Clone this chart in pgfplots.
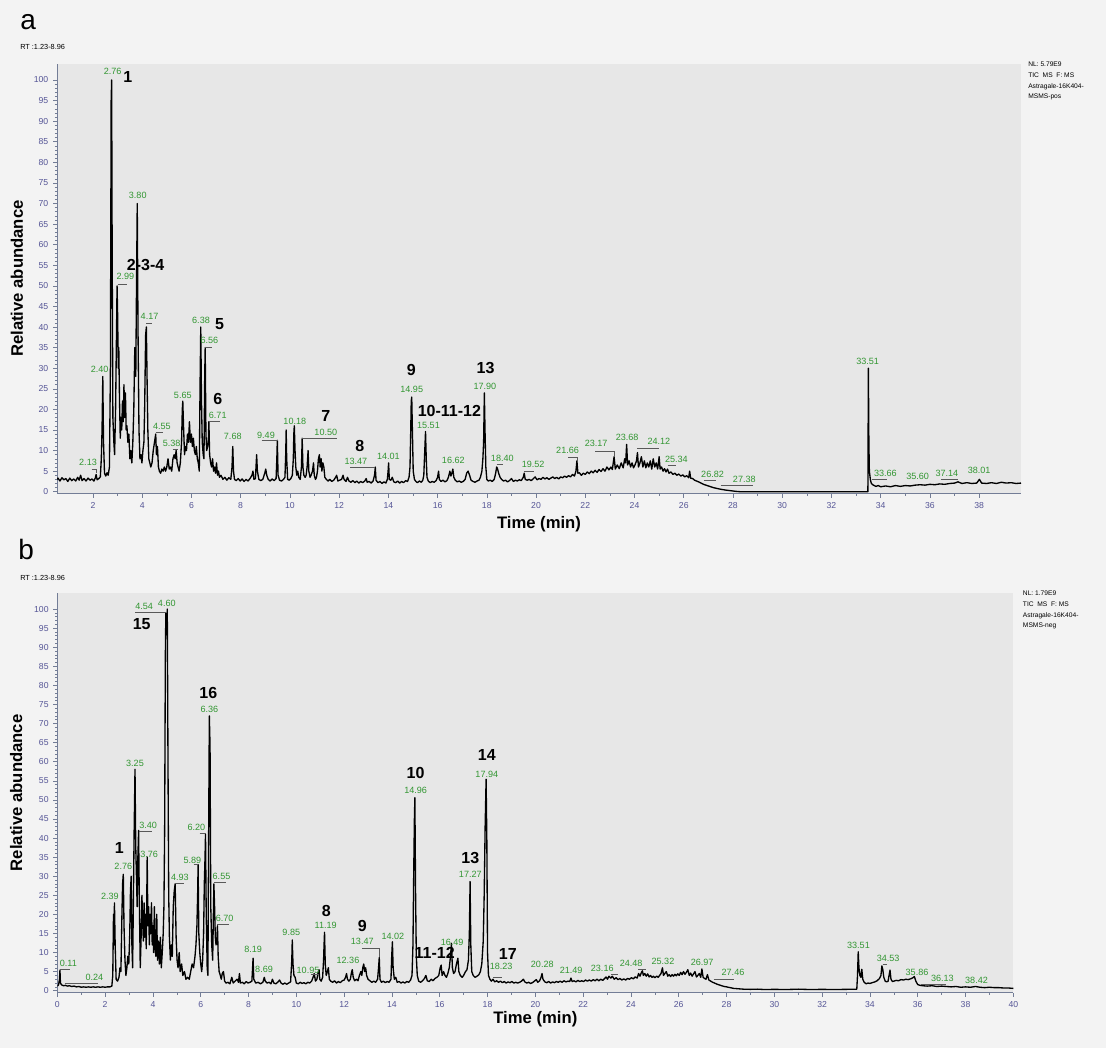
\documentclass[border=0pt]{standalone}
\usepackage{fontspec}
\setmainfont{Liberation Sans}
\usepackage{pgfplots}
\pgfplotsset{compat=1.18}

\definecolor{pagebg}{RGB}{243,243,243}
\definecolor{plotbg}{RGB}{231,231,231}
\definecolor{tickblue}{RGB}{85,85,150}
\definecolor{axisgray}{RGB}{115,125,150}
\definecolor{peakgreen}{RGB}{50,150,50}

\tikzset{
  trace/.style={black, line width=1pt, line join=round},
  glab/.style={font=\fontsize{6.8}{7}\selectfont, text=peakgreen, inner sep=0pt},
  plab/.style={font=\fontsize{12}{14}\selectfont\bfseries, inner sep=0pt},
  leader/.style={draw=black!65, line width=0.4pt},
}
\pgfplotsset{
  chrom/.style={
    scale only axis, axis lines=left,
    axis line style={-, axisgray, line width=0.6pt},
    axis background/.style={fill=plotbg},
    ymin=-0.5, ymax=104, ytick={0,5,...,100}, minor y tick num=4,
    minor x tick num=1,
    tick align=outside, tick style={axisgray, line width=0.4pt},
    major tick length=3pt, minor tick length=1.6pt,
    ticklabel style={font=\fontsize{6.5}{7}\selectfont, text=tickblue},
    /pgf/number format/assume math mode=true,
    xlabel={Time (min)}, ylabel={Relative abundance},
    label style={font=\fontsize{12.5}{14}\selectfont\bfseries},
    clip mode=individual,
  },
}

\begin{document}
\begin{tikzpicture}
\useasboundingbox (0,0) rectangle (829.5pt,786pt);
\fill[pagebg] (0,0) rectangle (829.5pt,786pt);

% panel labels and header texts
\node[anchor=base west, font=\fontsize{21}{24}\selectfont, inner sep=0pt] at (15pt,764pt) {a};
\node[anchor=base west, font=\fontsize{5.5}{6}\selectfont, inner sep=0pt] at (15pt,748.5pt) {RT :1.23-8.96};
\node[anchor=base west, font=\fontsize{21}{24}\selectfont, inner sep=0pt] at (13.5pt,366pt) {b};
\node[anchor=base west, font=\fontsize{5.5}{6}\selectfont, inner sep=0pt] at (15pt,350.5pt) {RT :1.23-8.96};

\begin{scope}[every node/.style={anchor=base west, font=\fontsize{5}{6}\selectfont, inner sep=0pt}]
\node at (771pt,735.8pt) {NL: 5.79E9};
\node at (771pt,727.5pt) {TIC\ \ MS\ \ F: MS};
\node at (771pt,719.3pt) {Astragale-16K404-};
\node at (771pt,711.8pt) {MSMS-pos};
\node at (767pt,339pt) {NL: 1.79E9};
\node at (767pt,331pt) {TIC\ \ MS\ \ F: MS};
\node at (767pt,323pt) {Astragale-16K404-};
\node at (767pt,315.2pt) {MSMS-neg};
\end{scope}

% ---------------- panel a ----------------
\begin{axis}[chrom,
  at={(42.75pt,415.65pt)}, anchor=south west,
  width=723pt, height=322.7pt,
  xmin=0.54, xmax=39.7, xtick={2,4,...,38},
  ylabel style={at={(axis description cs:-0.0415,0.5)}, anchor=center},
  xlabel style={at={(axis description cs:0.5,-0.07)}, anchor=center},
]
\addplot[trace] coordinates {
(0.50,2.8) (0.58,3.3) (0.66,2.6) (0.74,3.4) (0.82,2.9) (0.90,3.2) (0.98,2.5) (1.06,3.3)
(1.14,2.7) (1.22,3.1) (1.30,2.6) (1.38,3.5) (1.44,2.8) (1.50,4.0) (1.56,2.7) (1.64,3.2)
(1.72,2.6) (1.80,3.3) (1.88,2.8) (1.96,3.1) (2.04,2.6) (2.10,3.4) (2.13,4.2) (2.17,2.9)
(2.24,3.2) (2.30,3.6) (2.34,8) (2.37,15) (2.40,28) (2.43,12) (2.47,4.5) (2.52,3.8)
(2.57,4.6) (2.62,4.0) (2.67,6) (2.71,30) (2.74,95) (2.76,100) (2.78,60) (2.81,18)
(2.85,12) (2.88,9) (2.92,20) (2.95,35) (2.98,50) (3.00,44) (3.03,30) (3.05,35)
(3.08,22) (3.11,13) (3.14,18) (3.17,15) (3.20,22) (3.23,17) (3.26,26) (3.29,18)
(3.32,24) (3.35,15) (3.38,16) (3.42,12) (3.46,14) (3.50,8) (3.54,10) (3.58,7)
(3.62,12) (3.66,20) (3.70,35) (3.74,28) (3.77,50) (3.80,70) (3.83,40) (3.87,15)
(3.91,8) (3.95,9) (3.99,7) (4.03,10) (4.07,12) (4.10,20) (4.14,38) (4.17,40)
(4.20,27) (4.23,15) (4.27,8) (4.31,7) (4.35,6) (4.40,7) (4.45,10) (4.50,12)
(4.55,14) (4.58,9) (4.62,11) (4.66,6) (4.70,5) (4.75,4.5) (4.80,5.5) (4.85,5)
(4.90,6) (4.95,5) (5.00,6) (5.05,8) (5.10,5.5) (5.15,6) (5.20,5) (5.25,8)
(5.30,9) (5.34,8) (5.38,10) (5.42,7) (5.46,6) (5.50,5) (5.55,7) (5.60,12)
(5.63,20) (5.65,22) (5.68,16) (5.72,9) (5.76,11) (5.80,10) (5.84,14) (5.88,12)
(5.92,17) (5.96,12) (6.00,14) (6.04,11) (6.08,13) (6.12,10) (6.16,9) (6.20,11)
(6.24,8) (6.28,7) (6.32,5) (6.35,25) (6.38,40) (6.41,22) (6.44,12) (6.48,9)
(6.51,8) (6.54,28) (6.56,35) (6.59,14) (6.62,10) (6.66,11) (6.69,13) (6.71,17)
(6.74,9) (6.78,7) (6.82,6) (6.86,8) (6.90,5) (6.94,6) (6.98,4.5) (7.02,7)
(7.06,4) (7.10,5) (7.14,3.5) (7.20,4) (7.28,3) (7.36,3.5) (7.44,2.8) (7.52,3.4)
(7.60,3) (7.65,6) (7.68,11) (7.71,5) (7.75,3) (7.82,2.7) (7.90,3.2) (7.98,2.6)
(8.06,3.1) (8.14,2.5) (8.22,3) (8.30,2.6) (8.38,3.2) (8.46,4) (8.50,5) (8.54,3)
(8.60,3.2) (8.65,9) (8.68,5) (8.74,3) (8.82,2.7) (8.90,3) (8.98,4.5) (9.02,5.5)
(9.06,4) (9.12,3) (9.20,2.6) (9.28,3.1) (9.36,2.7) (9.44,3.2) (9.47,8) (9.49,12.5)
(9.52,4) (9.58,2.8) (9.66,2.6) (9.74,3) (9.80,3.5) (9.83,9) (9.85,15) (9.87,8)
(9.91,3) (9.97,2.8) (10.04,3.2) (10.10,4) (10.14,8) (10.16,14) (10.18,16) (10.21,10)
(10.24,6) (10.28,4) (10.32,5) (10.36,3.5) (10.42,3) (10.47,6) (10.50,13) (10.53,6)
(10.57,4) (10.62,3.5) (10.66,4) (10.70,6) (10.74,10) (10.77,5) (10.82,3.5) (10.86,4)
(10.92,5) (10.96,7) (10.99,4) (11.04,3) (11.08,3.5) (11.12,5) (11.16,8) (11.20,9)
(11.23,6) (11.27,8) (11.30,5) (11.34,7) (11.38,6) (11.42,3.5) (11.48,3) (11.55,2.6)
(11.62,3) (11.70,2.5) (11.78,2.8) (11.86,3.5) (11.90,4) (11.95,2.6) (12.02,2.8) (12.10,3)
(12.16,4) (12.20,3) (12.28,2.5) (12.34,3.5) (12.40,2.6) (12.48,2.3) (12.56,2.7) (12.64,2.2)
(12.72,2.6) (12.80,2.1) (12.88,2.5) (12.96,2.2) (13.04,2.6) (13.10,3.2) (13.14,2.3) (13.22,2.5)
(13.30,2.1) (13.38,2.6) (13.44,4) (13.47,6) (13.50,2.8) (13.58,2.2) (13.66,2.5) (13.74,2)
(13.82,2.4) (13.90,2.1) (13.96,3) (13.99,5) (14.01,7) (14.04,3) (14.10,2.8) (14.16,3.5)
(14.22,2.4) (14.30,2.2) (14.38,2.6) (14.46,2.1) (14.54,2.5) (14.62,2.2) (14.70,2.7) (14.78,2.5)
(14.84,3.5) (14.88,6) (14.91,15) (14.93,22) (14.95,23) (14.98,14) (15.01,5) (15.06,3)
(15.12,2.5) (15.18,2.2) (15.26,2.6) (15.34,2.3) (15.40,2.8) (15.44,4) (15.48,10) (15.51,14.6)
(15.54,8) (15.57,3.5) (15.62,2.6) (15.70,2.2) (15.78,2.5) (15.86,2.3) (15.94,2.7) (16.00,3.5)
(16.04,5) (16.07,3) (16.14,2.5) (16.22,2.8) (16.30,2.4) (16.38,2.7) (16.44,3.5) (16.50,5)
(16.54,3.8) (16.58,4.5) (16.62,5.5) (16.66,3.5) (16.72,2.8) (16.80,2.4) (16.88,2.6) (16.96,2.3)
(17.04,2.5) (17.12,3) (17.18,4.5) (17.24,5) (17.30,4) (17.36,2.8) (17.44,2.5) (17.52,2.3)
(17.60,2.6) (17.68,2.8) (17.74,3.5) (17.80,5) (17.84,8) (17.87,12) (17.90,24) (17.93,14)
(17.96,6) (18.00,3) (18.06,2.6) (18.14,2.8) (18.22,2.5) (18.30,3) (18.36,4.5) (18.40,6)
(18.44,5.5) (18.48,4.5) (18.54,3.5) (18.60,3) (18.68,2.6) (18.76,2.8) (18.84,2.4) (18.92,2.7)
(19.00,3.2) (19.08,2.5) (19.16,2.8) (19.24,2.6) (19.32,2.9) (19.40,2.7) (19.48,3.5) (19.52,4.5)
(19.56,3) (19.64,2.8) (19.72,3) (19.80,2.7) (19.88,3.1) (19.96,3.6) (20.04,2.9) (20.12,3.2)
(20.20,3) (20.28,3.5) (20.36,3.1) (20.44,3.4) (20.52,3) (20.60,3.3) (20.68,3.6) (20.76,3.2)
(20.84,3.5) (20.92,3.1) (21.00,3.6) (21.08,3.4) (21.16,3.8) (21.24,3.5) (21.32,3.9) (21.40,3.6)
(21.48,4.2) (21.56,3.8) (21.62,5) (21.66,7.5) (21.70,4.5) (21.76,4.6) (21.84,4) (21.92,4.5)
(22.00,4.2) (22.08,4.8) (22.16,4.4) (22.24,5) (22.32,4.6) (22.40,5.2) (22.48,4.7) (22.56,5.4)
(22.64,4.9) (22.72,5.6) (22.80,5) (22.88,6) (22.96,5.3) (23.04,6) (23.10,5.4) (23.17,8.5)
(23.22,5.5) (23.30,6.5) (23.38,5.6) (23.46,7) (23.54,5.8) (23.60,8) (23.64,7) (23.68,11.5)
(23.72,6.5) (23.78,7.5) (23.84,6) (23.90,7) (23.96,5.8) (24.02,6.5) (24.08,7.5) (24.12,9.5)
(24.16,6) (24.22,7) (24.28,8.5) (24.34,6) (24.40,7.5) (24.46,5.8) (24.52,7) (24.58,6)
(24.64,7.5) (24.70,5.5) (24.76,8) (24.82,6) (24.88,7) (24.94,5.5) (25.00,8.5) (25.04,5.5)
(25.10,6) (25.16,5) (25.22,5.6) (25.28,4.8) (25.34,5.5) (25.40,4.5) (25.48,4.8) (25.56,4.2)
(25.64,4.5) (25.72,4) (25.80,4.3) (25.88,3.8) (25.96,4.1) (26.04,3.6) (26.12,3.9) (26.20,3.4)
(26.24,5) (26.28,3.3) (26.36,3.2) (26.44,2.8) (26.52,2.6) (26.60,2.4) (26.70,2.1) (26.80,1.8)
(26.90,1.6) (27.00,1.4) (27.10,1.2) (27.20,1.0) (27.35,0.8) (27.50,0.6) (27.70,0.4) (27.90,0.25)
(28.10,0.1) (28.30,0) (33.48,0) (33.50,30) (33.52,12) (33.54,5) (33.58,3) (33.62,2)
(33.70,1.6) (33.80,1.3) (33.90,1.5) (34.00,1.2) (34.20,1.4) (34.40,1.2) (34.60,1.5) (34.80,1.3)
(35.00,1.5) (35.20,1.4) (35.40,1.6) (35.60,1.7) (35.80,1.6) (36.00,1.8) (36.20,1.7) (36.40,1.9)
(36.60,1.8) (36.80,2.0) (37.00,2.1) (37.14,2.4) (37.30,2.0) (37.50,2.2) (37.70,2.0) (37.90,2.1)
(38.01,3) (38.10,2.1) (38.30,2.0) (38.50,2.2) (38.70,2.0) (38.90,2.3) (39.10,2.1) (39.30,2.2)
(39.50,2.0) (39.70,2.1)
};
% leader lines
\draw[leader] (axis cs:1.95,5.5) -| (axis cs:2.13,4.5);
\draw[leader] (axis cs:3.00,50.5) -- (axis cs:3.40,50.5);
\draw[leader] (axis cs:4.17,41) -- (axis cs:4.40,41);
\draw[leader] (axis cs:4.55,14.5) -- (axis cs:4.85,14.5);
\draw[leader] (axis cs:5.25,10.4) -- (axis cs:5.45,10.4);
\draw[leader] (axis cs:6.56,35.2) -- (axis cs:6.85,35.2);
\draw[leader] (axis cs:6.71,17.2) -- (axis cs:7.15,17.2);
\draw[leader] (axis cs:8.85,12.6) -| (axis cs:9.49,12.5);
\draw[leader] (axis cs:10.50,13.1) -- (axis cs:11.90,13.1);
\draw[leader] (axis cs:12.45,6.0) -| (axis cs:13.47,6);
\draw[leader] (axis cs:18.40,6.6) -- (axis cs:18.65,6.6);
\draw[leader] (axis cs:19.52,5.0) -- (axis cs:19.90,5.0);
\draw[leader] (axis cs:21.30,8.3) -| (axis cs:21.66,7.5);
\draw[leader] (axis cs:22.40,9.8) -| (axis cs:23.17,8.5);
\draw[leader] (axis cs:24.12,10.6) -- (axis cs:25.00,10.6);
\draw[leader] (axis cs:25.34,6.4) -- (axis cs:25.70,6.4);
\draw[leader] (axis cs:26.82,2.9) -- (axis cs:27.30,2.9);
\draw[leader] (axis cs:27.50,1.6) -- (axis cs:28.80,1.6);
\draw[leader] (axis cs:33.66,3.0) -- (axis cs:34.25,3.0);
\draw[leader] (axis cs:36.45,3.0) -- (axis cs:37.14,3.0);
% retention time labels
\node[glab] at (axis cs:1.80,7.1) {2.13};
\node[glab] at (axis cs:2.27,29.7) {2.40};
\node[glab] at (axis cs:2.80,102) {2.76};
\node[glab] at (axis cs:3.82,72) {3.80};
\node[glab] at (axis cs:3.32,52.2) {2.99};
\node[glab] at (axis cs:4.30,42.7) {4.17};
\node[glab] at (axis cs:6.39,41.6) {6.38};
\node[glab] at (axis cs:6.73,36.7) {6.56};
\node[glab] at (axis cs:5.65,23.5) {5.65};
\node[glab] at (axis cs:7.07,18.5) {6.71};
\node[glab] at (axis cs:4.80,15.9) {4.55};
\node[glab] at (axis cs:5.20,11.8) {5.38};
\node[glab] at (axis cs:7.68,13.4) {7.68};
\node[glab] at (axis cs:9.03,13.8) {9.49};
\node[glab] at (axis cs:10.20,17.2) {10.18};
\node[glab] at (axis cs:11.46,14.5) {10.50};
\node[glab] at (axis cs:12.68,7.3) {13.47};
\node[glab] at (axis cs:14.00,8.5) {14.01};
\node[glab] at (axis cs:14.95,24.9) {14.95};
\node[glab] at (axis cs:15.63,16.2) {15.51};
\node[glab] at (axis cs:17.92,25.7) {17.90};
\node[glab] at (axis cs:16.64,7.5) {16.62};
\node[glab] at (axis cs:18.63,8.1) {18.40};
\node[glab] at (axis cs:19.88,6.6) {19.52};
\node[glab] at (axis cs:21.28,10.1) {21.66};
\node[glab] at (axis cs:22.44,11.7) {23.17};
\node[glab] at (axis cs:23.70,13.2) {23.68};
\node[glab] at (axis cs:24.99,12.3) {24.12};
\node[glab] at (axis cs:25.70,7.9) {25.34};
\node[glab] at (axis cs:27.17,4.3) {26.82};
\node[glab] at (axis cs:28.46,3.0) {27.38};
\node[glab] at (axis cs:33.47,31.7) {33.51};
\node[glab] at (axis cs:34.19,4.5) {33.66};
\node[glab] at (axis cs:35.50,3.8) {35.60};
\node[glab] at (axis cs:36.69,4.5) {37.14};
\node[glab] at (axis cs:38.00,5.3) {38.01};
% compound numbers
\node[plab] at (axis cs:3.42,100.7) {1};
\node[plab] at (axis cs:4.14,55) {2-3-4};
\node[plab] at (axis cs:7.14,40.7) {5};
\node[plab] at (axis cs:7.07,22.5) {6};
\node[plab] at (axis cs:11.46,18.3) {7};
\node[plab] at (axis cs:12.84,11) {8};
\node[plab] at (axis cs:14.93,29.6) {9};
\node[plab] at (axis cs:16.48,19.6) {10-11-12};
\node[plab] at (axis cs:17.95,30.1) {13};
\end{axis}

% ---------------- panel b ----------------
\begin{axis}[chrom,
  at={(43pt,41.55pt)}, anchor=south west,
  width=717pt, height=299.7pt,
  xmin=0, xmax=40, ymax=104.2, xtick={0,2,...,40},
  ylabel style={at={(axis description cs:-0.043,0.5)}, anchor=center},
  xlabel style={at={(axis description cs:0.5,-0.067)}, anchor=center},
]
\addplot[trace] coordinates {
(0.00,1.2) (0.05,1.5) (0.09,3) (0.11,5.4) (0.13,2) (0.18,1.5) (0.26,1.3) (0.34,1.4)
(0.42,1.2) (0.50,1.3) (0.60,1.1) (0.70,1.2) (0.80,1.0) (0.90,1.1) (1.00,0.9) (1.10,1.0)
(1.20,0.9) (1.30,1.0) (1.40,0.9) (1.50,1.0) (1.60,0.9) (1.70,1.0) (1.80,0.9) (1.90,1.0)
(2.00,0.9) (2.10,1.0) (2.20,1.0) (2.28,1.2) (2.32,4) (2.35,20) (2.37,12) (2.39,23)
(2.42,12) (2.46,3) (2.52,2.5) (2.58,3.5) (2.62,6) (2.66,5) (2.70,19) (2.73,28)
(2.76,30.5) (2.79,17) (2.83,8) (2.87,4) (2.91,6) (2.95,9) (2.99,7) (3.03,15)
(3.06,26) (3.09,30) (3.12,12) (3.15,6) (3.18,22) (3.21,40) (3.25,58) (3.28,38)
(3.31,30) (3.34,22) (3.37,35) (3.40,42) (3.43,24) (3.47,6) (3.51,15) (3.54,25)
(3.57,18) (3.60,13) (3.63,23) (3.66,14) (3.69,20) (3.72,11) (3.76,35) (3.79,17)
(3.82,22) (3.85,12) (3.88,20) (3.91,15) (3.94,23) (3.97,12) (4.00,17) (4.03,10)
(4.06,22) (4.09,12) (4.12,9) (4.16,20) (4.19,8) (4.23,13) (4.27,7) (4.31,14)
(4.35,6) (4.39,10) (4.43,15) (4.46,22) (4.49,42) (4.52,88) (4.54,99) (4.57,95)
(4.60,100) (4.63,60) (4.66,25) (4.69,14) (4.73,8) (4.77,12) (4.81,9) (4.85,22)
(4.89,26) (4.93,28) (4.97,14) (5.01,8) (5.05,6) (5.10,10) (5.14,5) (5.20,7)
(5.25,4) (5.32,5) (5.38,3) (5.45,3.5) (5.52,3) (5.58,5) (5.64,7) (5.70,6)
(5.76,9) (5.80,12) (5.84,17) (5.87,25) (5.89,33) (5.92,15) (5.96,10) (6.00,7)
(6.04,5) (6.08,8) (6.12,15) (6.15,28) (6.18,35) (6.20,41) (6.23,20) (6.27,6)
(6.30,4) (6.33,40) (6.36,72) (6.39,64) (6.42,22) (6.46,12) (6.50,8) (6.53,20)
(6.55,28) (6.58,22) (6.61,14) (6.64,12) (6.67,13) (6.70,17) (6.73,9) (6.77,5)
(6.82,4) (6.86,3) (6.90,4.5) (6.95,5) (7.00,2.5) (7.06,2) (7.14,2.2) (7.22,1.8)
(7.30,3.5) (7.36,2) (7.44,2.5) (7.52,3) (7.58,2.2) (7.62,4.5) (7.66,2) (7.74,2.2)
(7.82,1.8) (7.90,2.4) (7.98,2) (8.06,2.2) (8.14,2.5) (8.17,6) (8.19,8.5) (8.22,3)
(8.30,2) (8.40,2.2) (8.50,1.8) (8.60,2.2) (8.66,3.5) (8.70,2.5) (8.78,2) (8.86,2.2)
(8.94,1.8) (9.00,3) (9.06,2) (9.14,1.8) (9.22,2.2) (9.30,2.8) (9.36,2) (9.44,1.7)
(9.52,2) (9.60,1.7) (9.68,2) (9.76,2.3) (9.81,8) (9.83,13.3) (9.86,7) (9.90,4)
(9.95,3.5) (10.00,2) (10.08,1.8) (10.16,2.2) (10.24,1.9) (10.32,2.1) (10.40,1.8) (10.48,2.2)
(10.56,2) (10.64,2.5) (10.70,3.5) (10.75,4.5) (10.80,2.5) (10.86,3) (10.92,5) (10.95,5.5)
(10.98,3) (11.04,2.5) (11.10,3.5) (11.14,8) (11.16,12) (11.18,15.3) (11.21,7) (11.25,4)
(11.30,5) (11.34,6) (11.38,3) (11.44,2.5) (11.52,2.2) (11.60,2.6) (11.68,2) (11.76,2.4)
(11.84,2.1) (11.92,2.6) (12.00,2.8) (12.06,3.5) (12.10,4.5) (12.14,3) (12.20,2.5) (12.26,3)
(12.30,4.5) (12.34,5.5) (12.38,3.5) (12.44,2.6) (12.52,3) (12.58,2.6) (12.64,4) (12.70,5)
(12.74,4) (12.78,6) (12.82,7) (12.86,5) (12.90,6) (12.94,4) (13.00,3) (13.08,2.6)
(13.16,2.2) (13.24,2.5) (13.32,2.2) (13.40,3) (13.44,6) (13.47,8.7) (13.50,3) (13.56,2.2)
(13.64,2.5) (13.72,2.1) (13.80,2.4) (13.88,2.2) (13.96,3) (13.99,9) (14.02,12.8) (14.05,6)
(14.10,3) (14.16,3.5) (14.22,2.2) (14.30,2.4) (14.38,2) (14.46,2.3) (14.54,2) (14.62,2.4)
(14.70,2.2) (14.78,2.8) (14.84,4) (14.88,12) (14.91,30) (14.94,45) (14.96,50.6) (14.99,25)
(15.02,9) (15.06,4) (15.12,2.5) (15.20,2.2) (15.28,2.6) (15.36,3.2) (15.42,4) (15.48,2.6)
(15.56,2.4) (15.64,3) (15.72,2.6) (15.80,3.2) (15.88,3.5) (15.96,4) (16.02,6) (16.06,6.7)
(16.10,4) (16.16,5) (16.22,4) (16.28,3.5) (16.34,4.5) (16.40,6) (16.45,9) (16.49,12.4)
(16.53,6) (16.58,4.5) (16.64,5) (16.70,7) (16.76,8.5) (16.80,5) (16.86,4) (16.94,3.5)
(17.00,4) (17.08,5) (17.14,5.5) (17.20,8) (17.24,15) (17.27,28.6) (17.30,12) (17.34,5)
(17.40,4) (17.48,3.5) (17.56,3.8) (17.64,4.2) (17.70,5) (17.76,7) (17.82,13) (17.86,25)
(17.90,43) (17.94,55.4) (17.97,40) (18.00,10) (18.04,4) (18.10,3) (18.16,2.5) (18.23,3)
(18.30,2.3) (18.38,2.6) (18.46,2.2) (18.54,2.5) (18.62,2.1) (18.70,2.4) (18.78,2) (18.86,2.3)
(18.94,2.1) (19.02,2.4) (19.10,2) (19.18,2.2) (19.26,2) (19.34,2.2) (19.42,2.5) (19.50,3)
(19.56,2.3) (19.64,2) (19.72,2.2) (19.80,1.9) (19.88,2.1) (19.96,2.5) (20.04,2.9) (20.10,2.2)
(20.18,2.6) (20.24,3.5) (20.28,4.5) (20.32,3) (20.40,2.3) (20.48,2.1) (20.56,2.4) (20.64,2)
(20.72,2.3) (20.80,2.1) (20.88,2.4) (20.96,2.2) (21.04,2.5) (21.12,2.2) (21.20,2.6) (21.28,2.3)
(21.36,2.5) (21.44,2.4) (21.49,3.3) (21.54,2.4) (21.62,2.6) (21.70,2.3) (21.78,2.7) (21.86,2.4)
(21.94,2.6) (22.02,2.4) (22.10,2.8) (22.18,2.5) (22.26,2.8) (22.34,2.5) (22.42,2.9) (22.50,2.6)
(22.58,3) (22.66,2.6) (22.74,3) (22.82,2.7) (22.90,3.2) (22.96,3.6) (23.02,3) (23.08,3.8)
(23.16,3.3) (23.22,3.8) (23.30,3) (23.38,3.4) (23.46,2.9) (23.54,3.2) (23.62,2.8) (23.70,3.1)
(23.78,2.8) (23.86,3.2) (23.94,3) (24.02,3.4) (24.10,3.1) (24.18,3.6) (24.26,3.3) (24.32,4.5)
(24.38,3.8) (24.44,4.8) (24.48,5.2) (24.52,4) (24.58,4.5) (24.64,3.8) (24.70,4.4) (24.76,3.6)
(24.82,4) (24.88,3.5) (24.94,3.8) (25.00,3.4) (25.08,3.8) (25.14,3.5) (25.20,4) (25.26,4.5)
(25.32,6) (25.36,4) (25.42,4.5) (25.48,5) (25.54,3.8) (25.60,4.2) (25.66,3.7) (25.72,4.2)
(25.78,3.8) (25.84,4.3) (25.90,3.9) (25.96,4.4) (26.02,4) (26.08,4.8) (26.14,4.2) (26.20,5)
(26.26,4.3) (26.32,4.8) (26.38,5.5) (26.44,4) (26.50,4.6) (26.56,3.8) (26.62,4.4) (26.68,5)
(26.74,3.6) (26.80,4) (26.86,4.5) (26.92,3.5) (26.97,5.7) (27.02,3.5) (27.08,3.2) (27.14,3)
(27.20,4.2) (27.26,2.8) (27.34,2.5) (27.42,2.2) (27.50,2) (27.60,1.7) (27.70,1.5) (27.80,1.3)
(27.90,1.1) (28.00,1.0) (28.15,0.8) (28.30,0.6) (28.50,0.5) (28.70,0.4) (29.00,0.35) (29.30,0.4)
(29.60,0.3) (30.00,0.35) (30.50,0.3) (31.00,0.4) (31.50,0.3) (32.00,0.35) (32.50,0.3) (33.00,0.35)
(33.45,0.4) (33.48,4) (33.51,10.2) (33.54,6) (33.58,4) (33.62,3.5) (33.66,5.6) (33.70,3)
(33.76,2.2) (33.84,1.8) (33.92,2) (34.00,1.9) (34.10,2.1) (34.20,2.3) (34.30,2.6) (34.40,3.2)
(34.46,4) (34.50,6.5) (34.54,5.5) (34.58,3.5) (34.64,2.5) (34.70,2.3) (34.76,2.5) (34.80,4)
(34.84,5.4) (34.88,3) (34.94,2.4) (35.00,2.5) (35.10,2.7) (35.20,2.6) (35.30,2.9) (35.40,2.8)
(35.50,3.0) (35.60,2.9) (35.70,3.1) (35.80,3.4) (35.86,3.7) (35.92,2.5) (36.00,1.6) (36.10,1.4)
(36.20,1.3) (36.40,1.2) (36.60,1.3) (36.80,1.1) (37.00,1.2) (37.20,1.1) (37.40,1.0) (37.60,1.1)
(37.80,0.9) (38.00,1.0) (38.20,0.9) (38.42,1.1) (38.60,0.9) (38.80,0.8) (39.00,0.9) (39.20,0.8)
(39.40,0.8) (39.60,0.7) (39.80,0.7) (40.00,0.6)
};
% leader lines
\draw[leader] (axis cs:0.11,5.6) -- (axis cs:0.55,5.6);
\draw[leader] (axis cs:0.30,1.9) -- (axis cs:1.70,1.9);
\draw[leader] (axis cs:3.40,41.8) -- (axis cs:3.95,41.8);
\draw[leader] (axis cs:3.25,99.2) -- (axis cs:4.60,99.2);
\draw[leader] (axis cs:4.93,28.1) -- (axis cs:5.30,28.1);
\draw[leader] (axis cs:5.95,41.2) -- (axis cs:6.20,41.2);
\draw[leader] (axis cs:5.70,33.1) -- (axis cs:5.89,33.1);
\draw[leader] (axis cs:6.55,28.4) -- (axis cs:7.05,28.4);
\draw[leader] (axis cs:6.70,17.5) -- (axis cs:7.20,17.5);
\draw[leader] (axis cs:10.60,4.2) -- (axis cs:10.95,4.2);
\draw[leader] (axis cs:12.76,11.2) -| (axis cs:13.47,8.7);
\draw[leader] (axis cs:18.23,3.6) -- (axis cs:18.60,3.6);
\draw[leader] (axis cs:23.16,4.4) -- (axis cs:23.45,4.4);
\draw[leader] (axis cs:24.30,5.6) -- (axis cs:24.65,5.6);
\draw[leader] (axis cs:27.46,3.0) -- (axis cs:28.30,3.0);
\draw[leader] (axis cs:34.53,6.8) -- (axis cs:34.70,6.8);
\draw[leader] (axis cs:36.13,1.6) -- (axis cs:37.20,1.6);
% retention time labels
\node[glab] at (axis cs:3.63,100.6) {4.54};
\node[glab] at (axis cs:4.58,101.5) {4.60};
\node[glab] at (axis cs:6.36,73.7) {6.36};
\node[glab] at (axis cs:3.25,59.6) {3.25};
\node[glab] at (axis cs:3.80,43.4) {3.40};
\node[glab] at (axis cs:2.76,32.5) {2.76};
\node[glab] at (axis cs:3.84,35.8) {3.76};
\node[glab] at (axis cs:2.20,24.6) {2.39};
\node[glab] at (axis cs:5.82,42.8) {6.20};
\node[glab] at (axis cs:5.65,34.2) {5.89};
\node[glab] at (axis cs:5.13,29.6) {4.93};
\node[glab] at (axis cs:6.87,29.9) {6.55};
\node[glab] at (axis cs:7.00,19.0) {6.70};
\node[glab] at (axis cs:11.23,17.0) {11.19};
\node[glab] at (axis cs:12.76,12.8) {13.47};
\node[glab] at (axis cs:9.79,15.2) {9.85};
\node[glab] at (axis cs:8.19,10.7) {8.19};
\node[glab] at (axis cs:8.65,5.6) {8.69};
\node[glab] at (axis cs:10.49,5.4) {10.95};
\node[glab] at (axis cs:12.16,7.9) {12.36};
\node[glab] at (axis cs:0.46,7.2) {0.11};
\node[glab] at (axis cs:1.55,3.5) {0.24};
\node[glab] at (axis cs:14.04,14.3) {14.02};
\node[glab] at (axis cs:14.99,52.4) {14.96};
\node[glab] at (axis cs:17.97,56.8) {17.94};
\node[glab] at (axis cs:17.28,30.5) {17.27};
\node[glab] at (axis cs:16.52,12.6) {16.49};
\node[glab] at (axis cs:18.57,6.5) {18.23};
\node[glab] at (axis cs:20.29,7.0) {20.28};
\node[glab] at (axis cs:21.50,5.4) {21.49};
\node[glab] at (axis cs:22.80,5.9) {23.16};
\node[glab] at (axis cs:24.01,7.2) {24.48};
\node[glab] at (axis cs:25.34,7.8) {25.32};
\node[glab] at (axis cs:26.98,7.3) {26.97};
\node[glab] at (axis cs:28.27,4.7) {27.46};
\node[glab] at (axis cs:33.52,12.0) {33.51};
\node[glab] at (axis cs:34.76,8.5) {34.53};
\node[glab] at (axis cs:35.97,4.7) {35.86};
\node[glab] at (axis cs:37.03,3.2) {36.13};
\node[glab] at (axis cs:38.46,2.8) {38.42};
% compound numbers
\node[plab] at (axis cs:3.53,96) {15};
\node[plab] at (axis cs:6.32,78) {16};
\node[plab] at (axis cs:2.59,37.3) {1};
\node[plab] at (axis cs:11.25,21) {8};
\node[plab] at (axis cs:12.76,17) {9};
\node[plab] at (axis cs:14.99,57.1) {10};
\node[plab] at (axis cs:17.97,61.7) {14};
\node[plab] at (axis cs:17.28,34.7) {13};
\node[plab] at (axis cs:15.79,9.8) {11-12};
\node[plab] at (axis cs:18.85,9.5) {17};
\end{axis}
\end{tikzpicture}
\end{document}
